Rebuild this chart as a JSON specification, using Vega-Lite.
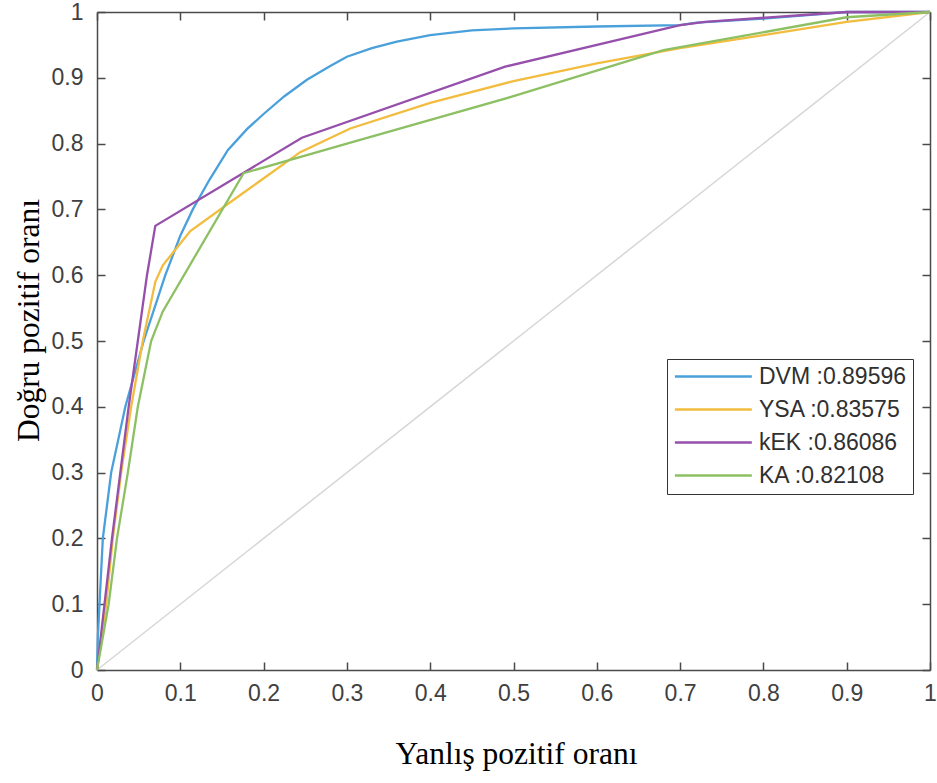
{
  "$schema": "https://vega.github.io/schema/vega-lite/v6.json",
  "width": 833,
  "height": 658,
  "autosize": {"type": "none"},
  "padding": {"left": 97, "top": 12, "right": 7, "bottom": 113},
  "background": "white",
  "config": {
    "view": {"stroke": null},
    "axis": {
      "grid": false,
      "labelFlush": false,
      "domainColor": "#4a4a4a",
      "domainWidth": 1.5,
      "tickColor": "#4a4a4a",
      "tickWidth": 1.5,
      "tickSize": -8,
      "labelFont": "Liberation Sans",
      "labelFontSize": 23,
      "labelColor": "#404040",
      "titleFont": "Liberation Serif",
      "titleFontSize": 31.5,
      "titleFontWeight": "normal",
      "titleColor": "#000000"
    }
  },
  "datasets": {
    "diag": [{"x": 0, "y": 0}, {"x": 1, "y": 1}],
    "roc": [
      {"model": "DVM :0.89596", "x": 0, "y": 0},
      {"model": "DVM :0.89596", "x": 0.001, "y": 0.05},
      {"model": "DVM :0.89596", "x": 0.003, "y": 0.1},
      {"model": "DVM :0.89596", "x": 0.007, "y": 0.2},
      {"model": "DVM :0.89596", "x": 0.017, "y": 0.3},
      {"model": "DVM :0.89596", "x": 0.034, "y": 0.4},
      {"model": "DVM :0.89596", "x": 0.056, "y": 0.5},
      {"model": "DVM :0.89596", "x": 0.082, "y": 0.6},
      {"model": "DVM :0.89596", "x": 0.1, "y": 0.66},
      {"model": "DVM :0.89596", "x": 0.115, "y": 0.7},
      {"model": "DVM :0.89596", "x": 0.135, "y": 0.745},
      {"model": "DVM :0.89596", "x": 0.157, "y": 0.79},
      {"model": "DVM :0.89596", "x": 0.18, "y": 0.822},
      {"model": "DVM :0.89596", "x": 0.2, "y": 0.845},
      {"model": "DVM :0.89596", "x": 0.225, "y": 0.872},
      {"model": "DVM :0.89596", "x": 0.252, "y": 0.897},
      {"model": "DVM :0.89596", "x": 0.28, "y": 0.918},
      {"model": "DVM :0.89596", "x": 0.3, "y": 0.932},
      {"model": "DVM :0.89596", "x": 0.33, "y": 0.945},
      {"model": "DVM :0.89596", "x": 0.36, "y": 0.955},
      {"model": "DVM :0.89596", "x": 0.4, "y": 0.965},
      {"model": "DVM :0.89596", "x": 0.45, "y": 0.972},
      {"model": "DVM :0.89596", "x": 0.5, "y": 0.975},
      {"model": "DVM :0.89596", "x": 0.6, "y": 0.978},
      {"model": "DVM :0.89596", "x": 0.7, "y": 0.98},
      {"model": "DVM :0.89596", "x": 0.72, "y": 0.984},
      {"model": "DVM :0.89596", "x": 0.8, "y": 0.99},
      {"model": "DVM :0.89596", "x": 0.88, "y": 0.998},
      {"model": "DVM :0.89596", "x": 0.9, "y": 1},
      {"model": "DVM :0.89596", "x": 1, "y": 1},
      {"model": "YSA :0.83575", "x": 0, "y": 0},
      {"model": "YSA :0.83575", "x": 0.011, "y": 0.1},
      {"model": "YSA :0.83575", "x": 0.019, "y": 0.2},
      {"model": "YSA :0.83575", "x": 0.029, "y": 0.3},
      {"model": "YSA :0.83575", "x": 0.041, "y": 0.4},
      {"model": "YSA :0.83575", "x": 0.055, "y": 0.5},
      {"model": "YSA :0.83575", "x": 0.07, "y": 0.59},
      {"model": "YSA :0.83575", "x": 0.079, "y": 0.615},
      {"model": "YSA :0.83575", "x": 0.112, "y": 0.667},
      {"model": "YSA :0.83575", "x": 0.17, "y": 0.72},
      {"model": "YSA :0.83575", "x": 0.244, "y": 0.787},
      {"model": "YSA :0.83575", "x": 0.304, "y": 0.823},
      {"model": "YSA :0.83575", "x": 0.4, "y": 0.862},
      {"model": "YSA :0.83575", "x": 0.5, "y": 0.895},
      {"model": "YSA :0.83575", "x": 0.6, "y": 0.922},
      {"model": "YSA :0.83575", "x": 0.7, "y": 0.945},
      {"model": "YSA :0.83575", "x": 0.8, "y": 0.965},
      {"model": "YSA :0.83575", "x": 0.9, "y": 0.985},
      {"model": "YSA :0.83575", "x": 1, "y": 1},
      {"model": "kEK :0.86086", "x": 0, "y": 0},
      {"model": "kEK :0.86086", "x": 0.009, "y": 0.1},
      {"model": "kEK :0.86086", "x": 0.018, "y": 0.2},
      {"model": "kEK :0.86086", "x": 0.028, "y": 0.3},
      {"model": "kEK :0.86086", "x": 0.038, "y": 0.4},
      {"model": "kEK :0.86086", "x": 0.049, "y": 0.5},
      {"model": "kEK :0.86086", "x": 0.06, "y": 0.6},
      {"model": "kEK :0.86086", "x": 0.07, "y": 0.675},
      {"model": "kEK :0.86086", "x": 0.246, "y": 0.809},
      {"model": "kEK :0.86086", "x": 0.49, "y": 0.917},
      {"model": "kEK :0.86086", "x": 0.7, "y": 0.98},
      {"model": "kEK :0.86086", "x": 0.73, "y": 0.985},
      {"model": "kEK :0.86086", "x": 0.9, "y": 1},
      {"model": "kEK :0.86086", "x": 1, "y": 1},
      {"model": "KA :0.82108", "x": 0, "y": 0},
      {"model": "KA :0.82108", "x": 0.014, "y": 0.1},
      {"model": "KA :0.82108", "x": 0.024, "y": 0.2},
      {"model": "KA :0.82108", "x": 0.037, "y": 0.3},
      {"model": "KA :0.82108", "x": 0.049, "y": 0.4},
      {"model": "KA :0.82108", "x": 0.065, "y": 0.5},
      {"model": "KA :0.82108", "x": 0.079, "y": 0.545},
      {"model": "KA :0.82108", "x": 0.176, "y": 0.755},
      {"model": "KA :0.82108", "x": 0.3, "y": 0.8},
      {"model": "KA :0.82108", "x": 0.5, "y": 0.872},
      {"model": "KA :0.82108", "x": 0.68, "y": 0.942},
      {"model": "KA :0.82108", "x": 0.9, "y": 0.992},
      {"model": "KA :0.82108", "x": 1, "y": 1}
    ]
  },
  "layer": [
    {
      "data": {"name": "diag"},
      "mark": {"type": "line", "color": "#d6d6d6", "strokeWidth": 1.5},
      "encoding": {
        "x": {"field": "x", "type": "quantitative", "scale": {"domain": [0, 1]},
              "axis": {"orient": "top", "labels": false, "title": null, "values": [0, 0.1, 0.2, 0.3, 0.4, 0.5, 0.6, 0.7, 0.8, 0.9, 1]}},
        "y": {"field": "y", "type": "quantitative", "scale": {"domain": [0, 1]},
              "axis": {"orient": "right", "labels": false, "title": null, "values": [0, 0.1, 0.2, 0.3, 0.4, 0.5, 0.6, 0.7, 0.8, 0.9, 1]}}
      }
    },
    {
      "data": {"name": "roc"},
      "mark": {"type": "line", "strokeWidth": 2.3},
      "encoding": {
        "x": {"field": "x", "type": "quantitative", "scale": {"domain": [0, 1]},
              "axis": {"orient": "bottom", "title": "Yanlış pozitif oranı", "format": "~g",
                       "values": [0, 0.1, 0.2, 0.3, 0.4, 0.5, 0.6, 0.7, 0.8, 0.9, 1],
                       "labelPadding": 20, "titleX": 419, "titleY": 93, "titleBaseline": "alphabetic", "titleAlign": "center"}},
        "y": {"field": "y", "type": "quantitative", "scale": {"domain": [0, 1]},
              "axis": {"orient": "left", "title": "Doğru pozitif oranı", "format": "~g",
                       "values": [0, 0.1, 0.2, 0.3, 0.4, 0.5, 0.6, 0.7, 0.8, 0.9, 1],
                       "labelPadding": 22, "titleX": -59, "titleY": 308, "titleBaseline": "alphabetic", "titleAlign": "center", "titleAngle": -90}},
        "color": {"field": "model", "type": "nominal",
                  "scale": {"domain": ["DVM :0.89596", "YSA :0.83575", "kEK :0.86086", "KA :0.82108"],
                            "range": ["#4aa0da", "#f2bc3e", "#9650ac", "#8cc063"]},
                  "legend": {"orient": "none", "legendX": 570, "legendY": 347, "title": null,
                             "symbolType": "M-1,0H7", "symbolSize": 370, "symbolStrokeWidth": 2.5,
                             "labelFont": "Liberation Sans", "labelFontSize": 23, "labelColor": "#303030",
                             "labelOffset": 63, "padding": 6, "strokeColor": "#333333", "fillColor": "white",
                             "rowPadding": 9}}
      }
    }
  ],
  "resolve": {"axis": {"x": "independent", "y": "independent"}}
}
